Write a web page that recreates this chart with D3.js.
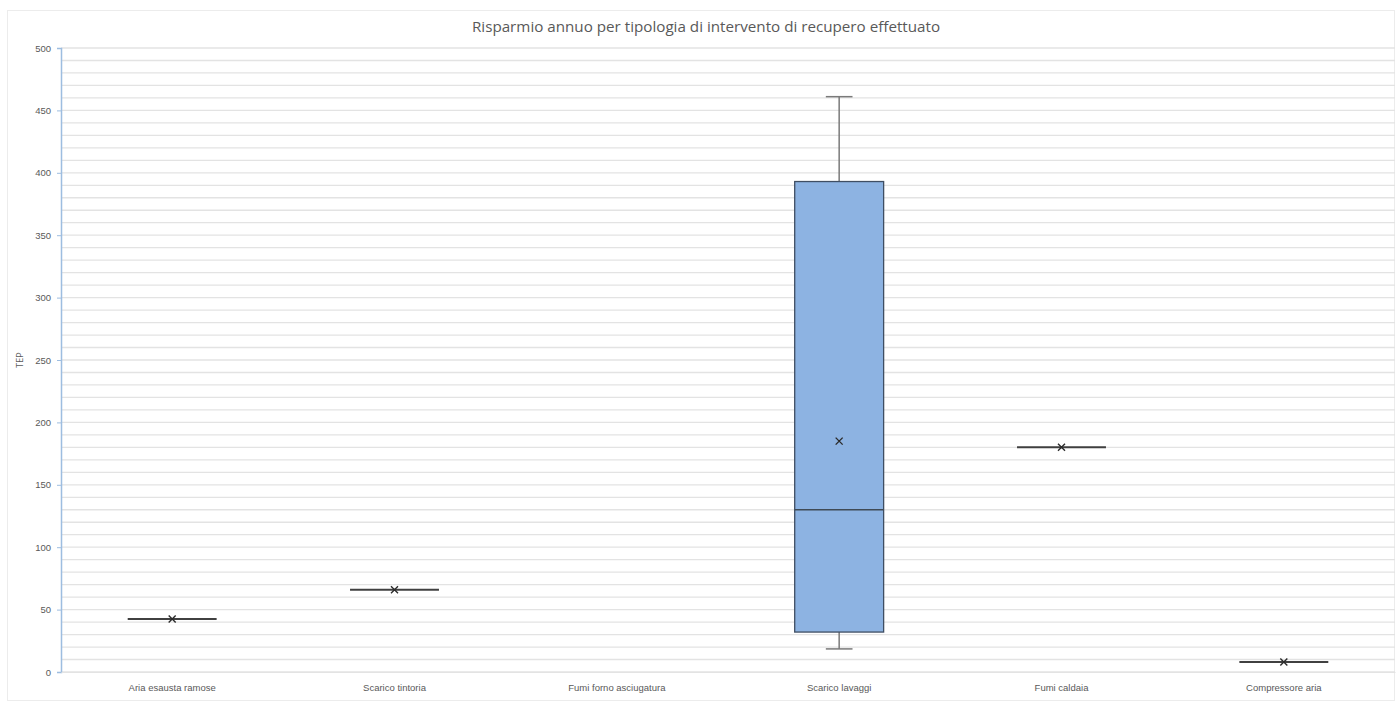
<!DOCTYPE html>
<html>
<head>
<meta charset="utf-8">
<script src="https://cdn.jsdelivr.net/npm/d3@7"></script>
<style>
  html, body { margin: 0; padding: 0; background: #fff; }
  svg { display: block; font-family: "Open Sans", "Liberation Sans", sans-serif; }
</style>
</head>
<body>
<svg id="chart" width="1397" height="702"></svg>
<script>
// Annual savings (TEP) per type of heat-recovery intervention
const categories = [
  "Aria esausta ramose",
  "Scarico tintoria",
  "Fumi forno asciugatura",
  "Scarico lavaggi",
  "Fumi caldaia",
  "Compressore aria"
];
// Box-plot statistics per category (null = no data)
const whiskerLow  = [42.5, 66, null, 18.5, 180, 8];
const quartile1   = [42.5, 66, null, 32,   180, 8];
const medianVal   = [42.5, 66, null, 130,  180, 8];
const quartile3   = [42.5, 66, null, 393,  180, 8];
const whiskerHigh = [42.5, 66, null, 461,  180, 8];
const meanVal     = [42.5, 66, null, 185,  180, 8];
const yTicks = [0, 50, 100, 150, 200, 250, 300, 350, 400, 450, 500];

const svg = d3.select("#chart");
const W = 1397, H = 702;
const m = { left: 61, right: 2, top: 48, bottom: 30 };

// outer chart frame
svg.append("rect")
  .attr("x", 7.5).attr("y", 10.5)
  .attr("width", W - 10).attr("height", H - 12)
  .attr("fill", "#fff").attr("stroke", "#ececec");

const x = d3.scaleBand().domain(categories).range([m.left, W - m.right]).padding(0);
const y = d3.scaleLinear().domain([0, 500]).range([H - m.bottom, m.top]);

// gridlines every 10 units
const grid = d3.range(0, 501, 10);
svg.append("g").selectAll("line").data(grid).join("line")
  .attr("x1", m.left).attr("x2", W - m.right)
  .attr("y1", d => y(d)).attr("y2", d => y(d))
  .attr("stroke", "#e3e3e3").attr("stroke-width", 1.3);

// y axis
const yAxis = svg.append("g")
  .attr("transform", `translate(${m.left},0)`)
  .call(d3.axisLeft(y).tickValues(yTicks).tickSize(4).tickPadding(6));
yAxis.select(".domain").attr("stroke", "#9dbde0").attr("stroke-width", 1.5);
yAxis.selectAll(".tick line").attr("stroke", "#9dbde0");
yAxis.selectAll(".tick text").attr("fill", "#595959").style("font-size", "9.5px");

// x axis labels
const xAxis = svg.append("g")
  .attr("transform", `translate(0,${H - m.bottom})`)
  .call(d3.axisBottom(x).tickSize(0).tickPadding(12));
xAxis.select(".domain").attr("stroke", "#e3e3e3");
xAxis.selectAll(".tick text").attr("fill", "#595959").style("font-size", "9.5px");

// axis title
svg.append("text")
  .attr("transform", `translate(23,${(m.top + H - m.bottom) / 2}) rotate(-90)`)
  .attr("text-anchor", "middle").attr("fill", "#595959")
  .style("font-size", "9px").text("TEP");

// chart title
svg.append("text")
  .attr("x", 706).attr("y", 32)
  .attr("text-anchor", "middle").attr("fill", "#595959")
  .style("font-size", "15.2px").text("Risparmio annuo per tipologia di intervento di recupero effettuato");

// box plots
const boxW = x.bandwidth() * 0.4;
const capW = boxW * 0.3;
const rows = categories.map((c, i) => ({
  c, lo: whiskerLow[i], q1: quartile1[i], med: medianVal[i],
  q3: quartile3[i], hi: whiskerHigh[i], mean: meanVal[i]
})).filter(d => d.med !== null);

const g = svg.append("g");
rows.forEach(d => {
  const cx = x(d.c) + x.bandwidth() / 2;
  const flat = d.q1 === d.q3;
  // whiskers
  g.append("line").attr("x1", cx).attr("x2", cx)
    .attr("y1", y(d.q3)).attr("y2", y(d.hi))
    .attr("stroke", "#7a7a7a").attr("stroke-width", 1.5);
  g.append("line").attr("x1", cx).attr("x2", cx)
    .attr("y1", y(d.q1)).attr("y2", y(d.lo))
    .attr("stroke", "#7a7a7a").attr("stroke-width", 1.5);
  if (d.hi !== d.q3) {
    g.append("line").attr("x1", cx - capW / 2).attr("x2", cx + capW / 2)
      .attr("y1", y(d.hi)).attr("y2", y(d.hi))
      .attr("stroke", "#7a7a7a").attr("stroke-width", 1.5);
  }
  if (d.lo !== d.q1) {
    g.append("line").attr("x1", cx - capW / 2).attr("x2", cx + capW / 2)
      .attr("y1", y(d.lo)).attr("y2", y(d.lo))
      .attr("stroke", "#7a7a7a").attr("stroke-width", 1.5);
  }
  // box
  g.append("rect")
    .attr("x", cx - boxW / 2).attr("y", y(d.q3))
    .attr("width", boxW).attr("height", Math.max(0, y(d.q1) - y(d.q3)))
    .attr("fill", "#8db3e2").attr("stroke", "#3f4e63").attr("stroke-width", 1.3);
  // median
  g.append("line").attr("x1", cx - boxW / 2).attr("x2", cx + boxW / 2)
    .attr("y1", y(d.med)).attr("y2", y(d.med))
    .attr("stroke", flat ? "#404040" : "#3f4a55").attr("stroke-width", flat ? 2 : 1.6);
  // mean marker (x)
  const s = 3.5, my = y(d.mean);
  g.append("path")
    .attr("d", `M${cx - s},${my - s}L${cx + s},${my + s}M${cx - s},${my + s}L${cx + s},${my - s}`)
    .attr("stroke", "#2b2b2b").attr("stroke-width", 1.4).attr("fill", "none");
});
</script>
</body>
</html>
